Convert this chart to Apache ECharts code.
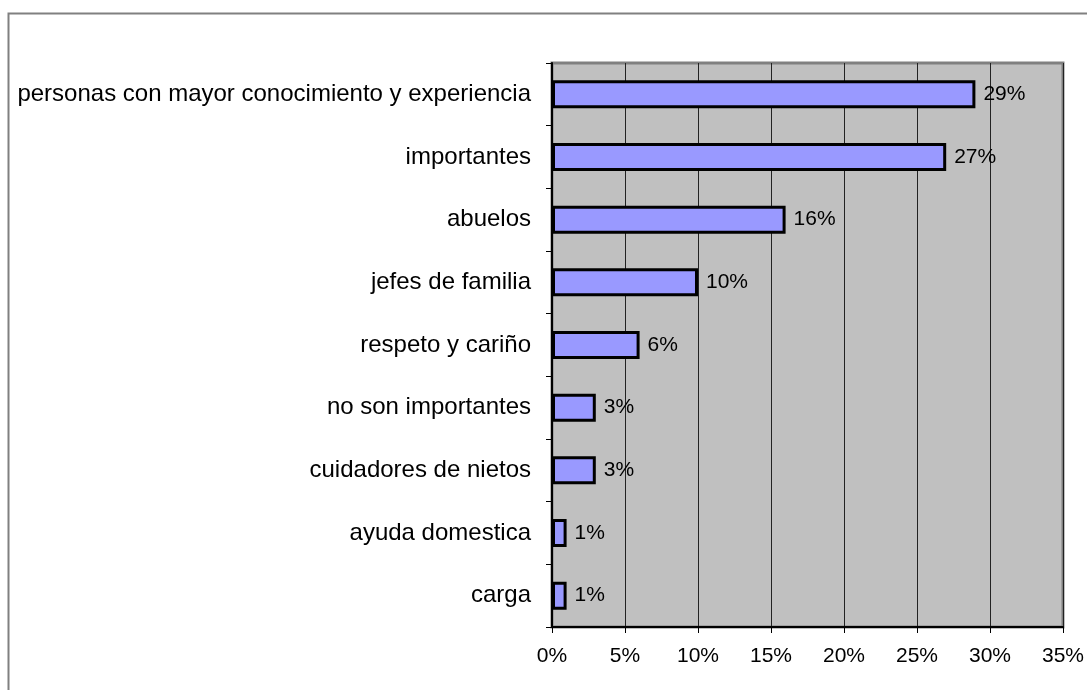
<!DOCTYPE html>
<html>
<head>
<meta charset="utf-8">
<style>
  html, body { margin: 0; padding: 0; background: #fff; }
  #chart { width: 1087px; height: 690px; }
</style>
<script src="https://cdn.jsdelivr.net/npm/echarts@6/dist/echarts.min.js"></script>
</head>
<body>
<div id="chart"></div>
<script>
// Categories listed top to bottom
var categories = [
  'personas con mayor conocimiento y experiencia',
  'importantes',
  'abuelos',
  'jefes de familia',
  'respeto y cariño',
  'no son importantes',
  'cuidadores de nietos',
  'ayuda domestica',
  'carga'
];
// Share of responses, in percent
var values = [29, 27, 16, 10, 6, 3, 3, 1, 1];
var axisMax = 35;
var axisStep = 5;

var font = 'Liberation Sans, Arial, sans-serif';
var chart = echarts.init(document.getElementById('chart'), null, { renderer: 'canvas' });

chart.setOption({
  animation: false,
  backgroundColor: '#ffffff',
  graphic: [{
    type: 'rect',
    shape: { x: 8.5, y: 13.5, width: 1100, height: 700 },
    style: { fill: 'none', stroke: '#808080', lineWidth: 2 },
    silent: true,
    z: -10
  }],
  grid: {
    left: 552, right: 21, top: 63, bottom: 63,
    show: true,
    backgroundColor: '#C0C0C0',
    borderColor: '#808080',
    borderWidth: 3
  },
  xAxis: {
    type: 'value',
    min: 0, max: axisMax, interval: axisStep,
    axisLine: { show: true, lineStyle: { color: '#000', width: 2 } },
    axisTick: { show: true, length: 6, lineStyle: { color: '#000', width: 1 } },
    axisLabel: {
      formatter: '{value}%', color: '#000', fontFamily: font, fontSize: 21, margin: 19
    },
    splitLine: { show: true, lineStyle: { color: '#222', width: 1 } }
  },
  yAxis: {
    type: 'category',
    data: categories,
    inverse: true,
    axisLine: { show: true, onZero: false, lineStyle: { color: '#000', width: 2 } },
    axisTick: { show: true, length: 6, inside: false, lineStyle: { color: '#000', width: 1 } },
    axisLabel: { color: '#000', fontFamily: font, fontSize: 24, margin: 21 },
    splitLine: { show: false }
  },
  series: [{
    type: 'bar',
    data: values,
    barWidth: 28,
    itemStyle: { color: '#9999FF', borderColor: '#000', borderWidth: 3 },
    label: {
      show: true, position: 'right', distance: 8,
      formatter: '{c}%', color: '#000', fontFamily: font, fontSize: 21
    }
  }]
});
</script>
</body>
</html>
